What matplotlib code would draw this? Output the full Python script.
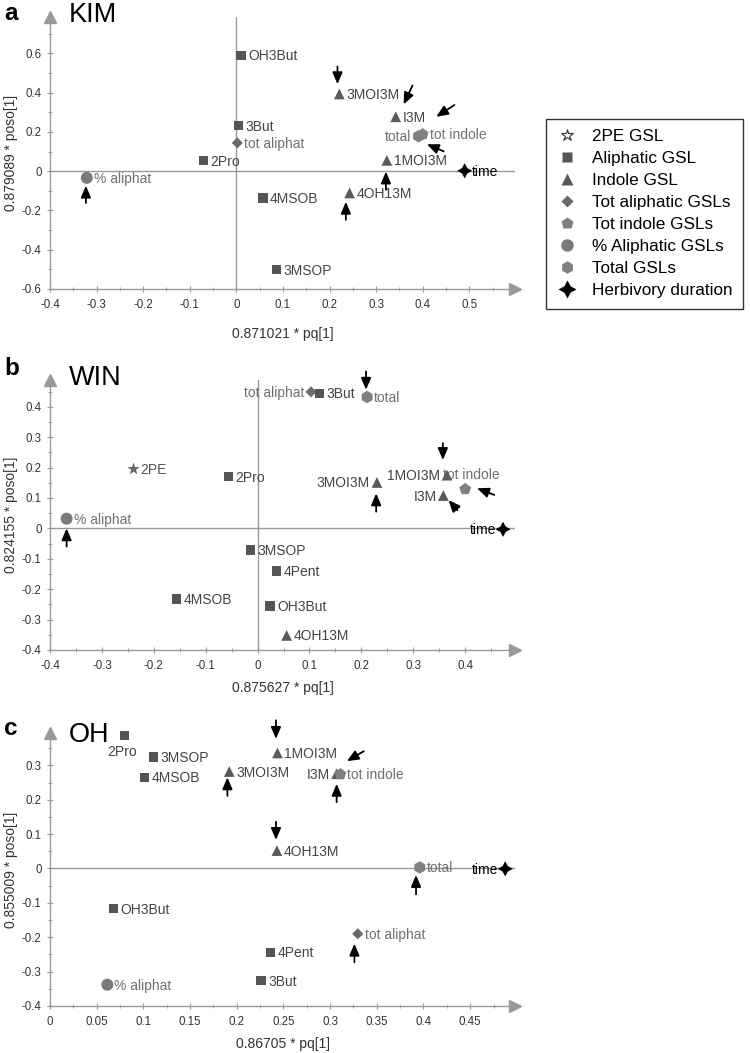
import matplotlib
matplotlib.use("Agg")
import matplotlib.pyplot as plt
from matplotlib.lines import Line2D
from matplotlib.ticker import MultipleLocator

plt.rcParams["font.family"] = ["Liberation Sans", "DejaVu Sans"]

# ---- panel a: KIM ----
a_names = ["OH3But", "3MOI3M", "I3M", "tot indole", "total", "3But", "tot aliphat",
           "2Pro", "1MOI3M", "time", "% aliphat", "4MSOB", "4OH13M", "3MSOP"]
a_kind = ["ali", "ind", "ind", "totind", "total", "ali", "totali",
          "ali", "ind", "time", "pct", "ali", "ind", "ali"]
a_x = [0.010, 0.221, 0.342, 0.400, 0.391, 0.005, 0.002, -0.071, 0.323, 0.490, -0.321, 0.057, 0.243, 0.086]
a_y = [0.590, 0.393, 0.277, 0.188, 0.178, 0.232, 0.144, 0.053, 0.055, 0.002, -0.034, -0.137, -0.111, -0.501]
# arrows: tail -> head
a_arrows = [((0.217, 0.533), (0.217, 0.443)),
            ((0.378, 0.436), (0.359, 0.340)),
            ((0.468, 0.337), (0.429, 0.277)),
            ((0.445, 0.101), (0.409, 0.137)),
            ((0.321, -0.094), (0.321, -0.002)),
            ((-0.323, -0.162), (-0.323, -0.074)),
            ((0.235, -0.248), (0.235, -0.156))]

# ---- panel b: WIN ----
b_names = ["tot aliphat", "3But", "total", "2PE", "2Pro", "3MOI3M", "1MOI3M", "tot indole",
           "I3M", "% aliphat", "time", "3MSOP", "4Pent", "4MSOB", "OH3But", "4OH13M"]
b_kind = ["totali", "ali", "total", "pe", "ali", "ind", "ind", "totind",
          "ind", "pct", "time", "ali", "ali", "ali", "ali", "ind"]
b_x = [0.103, 0.119, 0.211, -0.239, -0.056, 0.230, 0.365, 0.400, 0.358, -0.368, 0.473,
       -0.014, 0.037, -0.156, 0.024, 0.056]
b_y = [0.449, 0.444, 0.432, 0.195, 0.170, 0.151, 0.175, 0.129, 0.108, 0.032, -0.003,
       -0.071, -0.140, -0.232, -0.255, -0.352]
b_arrows = [((0.209, 0.516), (0.209, 0.456)),
            ((0.357, 0.280), (0.357, 0.225)),
            ((0.2285, 0.055), (0.2285, 0.115)),
            ((0.456, 0.110), (0.423, 0.132)),
            ((0.385, 0.060), (0.368, 0.093)),
            ((-0.368, -0.060), (-0.368, 0.000))]

# ---- panel c: OH ----
c_names = ["2Pro", "3MSOP", "4MSOB", "1MOI3M", "3MOI3M", "I3M", "tot indole", "4OH13M",
           "total", "time", "OH3But", "tot aliphat", "4Pent", "3But", "% aliphat"]
c_kind = ["ali", "ali", "ali", "ind", "ind", "ind", "totind", "ind",
          "total", "time", "ali", "totali", "ali", "ali", "pct"]
c_x = [0.0796, 0.111, 0.101, 0.2436, 0.192, 0.307, 0.311, 0.243, 0.396, 0.4875, 0.068, 0.3296,
       0.2364, 0.226, 0.0614]
c_y = [0.387, 0.324, 0.265, 0.336, 0.282, 0.2756, 0.274, 0.052, 0.003, -0.001, -0.117, -0.190,
       -0.244, -0.326, -0.338]
c_arrows = [((0.242, 0.431), (0.242, 0.377)),
            ((0.336, 0.341), (0.318, 0.312)),
            ((0.190, 0.211), (0.190, 0.265)),
            ((0.307, 0.193), (0.307, 0.246)),
            ((0.242, 0.136), (0.242, 0.083)),
            ((0.392, -0.075), (0.392, -0.019)),
            ((0.326, -0.273), (0.326, -0.219))]

legend_labels = ["2PE GSL", "Aliphatic GSL", "Indole GSL", "Tot aliphatic GSLs",
                 "Tot indole GSLs", "% Aliphatic GSLs", "Total GSLs", "Herbivory duration"]

# marker style per kind
STYLE = {
    "pe":     dict(marker="*", s=90, c="#6a6a6a"),
    "ali":    dict(marker="s", s=45, c="#555555"),
    "ind":    dict(marker="^", s=60, c="#5a5a5a"),
    "totali": dict(marker="D", s=32, c="#6a6a6a"),
    "totind": dict(marker="p", s=80, c="#808080"),
    "pct":    dict(marker="o", s=75, c="#7a7a7a"),
    "total":  dict(marker="h", s=80, c="#808080"),
    "time":   dict(marker=(4, 1, 0), s=120, c="black"),
}
TXT = {"pe": "#555555", "ali": "#444444", "ind": "#444444", "totali": "#707070",
       "totind": "#707070", "pct": "#707070", "total": "#707070", "time": "black"}

# label placement (offset in pixels, ha)
R, L = ((7, -1), "left"), ((-7, -1), "right")
a_place = {"total": L}
b_place = {"tot aliphat": L, "3MOI3M": L, "1MOI3M": L, "I3M": L, "time": L,
           "tot indole": ((-22, 14), "left")}
c_place = {"I3M": L, "time": L, "2Pro": ((-2, -17), "center")}

fig = plt.figure(figsize=(7.5, 10.53), dpi=100)
W, H = 750, 1053


def panel(rect, names, kinds, xs, ys, arrows, place, xlim, ylim, xmaj, xmin, ymaj, ymin,
          xlabel, ylabel, letter, title, heads, xpad, vline=True):
    l, t, r, b = rect
    ax = fig.add_axes([l / W, 1 - b / H, (r - l) / W, (b - t) / H])
    ax.set_xlim(*xlim)
    ax.set_ylim(*ylim)
    for s in ["top", "right"]:
        ax.spines[s].set_visible(False)
    for s in ["left", "bottom"]:
        ax.spines[s].set_color("#999999")
        ax.spines[s].set_linewidth(1)
    ax.plot(1, 0, ">", transform=ax.transAxes, clip_on=False, color="#999999", ms=8)
    ax.plot(0, 1, "^", transform=ax.transAxes, clip_on=False, color="#999999", ms=8)
    ax.axhline(0, color="#999999", lw=1, zorder=0)
    if vline:
        ax.axvline(0, color="#999999", lw=1, zorder=0)
    ax.xaxis.set_major_locator(MultipleLocator(xmaj))
    ax.xaxis.set_minor_locator(MultipleLocator(xmin))
    ax.yaxis.set_major_locator(MultipleLocator(ymaj))
    ax.yaxis.set_minor_locator(MultipleLocator(ymin))
    ax.tick_params(which="both", direction="inout", color="#999999", labelsize=8.3,
                   labelcolor="#333333")
    ax.tick_params(which="major", length=5)
    ax.tick_params(which="minor", length=3)
    ax.tick_params(axis="x", pad=5)
    ax.set_xticklabels([("%g" % v) for v in ax.get_xticks()])
    ax.set_yticklabels([("%g" % v) for v in ax.get_yticks()])
    ax.set_xlim(*xlim)
    ax.set_ylim(*ylim)
    ax.set_xlabel(xlabel, fontsize=10, color="#333333", labelpad=xpad)
    ax.set_ylabel(ylabel, fontsize=10, color="#333333")
    ax.yaxis.set_label_coords((18 - l) / (r - l), 0.5)

    for n, k, x, y in zip(names, kinds, xs, ys):
        st = STYLE[k]
        ax.scatter([x], [y], marker=st["marker"], s=st["s"], c=st["c"], edgecolors="none",
                   zorder=3, clip_on=False)
        off, ha = place.get(n, R)
        ax.annotate(n, (x, y), xytext=off, textcoords="offset pixels", ha=ha, va="center",
                    fontsize=10, color=TXT[k], zorder=2, annotation_clip=False)

    for (tx, ty), (hx, hy) in arrows:
        ax.annotate("", xy=(hx, hy), xytext=(tx, ty), annotation_clip=False,
                    arrowprops=dict(arrowstyle="-|>,head_length=0.7,head_width=0.3",
                                    color="black", lw=1.3, shrinkA=0, shrinkB=0))

    lb, tb = heads
    fig.text(4 / W, 1 - lb / H, letter, fontsize=17.5, fontweight="bold", va="baseline")
    fig.text(69 / W, 1 - tb / H, title, fontsize=19.5, va="baseline")
    return ax


panel((50, 17, 515, 289), a_names, a_kind, a_x, a_y, a_arrows, a_place,
      (-0.4, 0.598), (-0.6, 0.785), 0.1, 0.05, 0.2, 0.1,
      "0.871021 * pq[1]", "0.879089 * poso[1]", "a", "KIM", (20, 22), 11)
panel((50, 380, 515, 650), b_names, b_kind, b_x, b_y, b_arrows, b_place,
      (-0.4, 0.496), (-0.4, 0.488), 0.1, 0.05, 0.1, 0.05,
      "0.875627 * pq[1]", "0.824155 * poso[1]", "b", "WIN", (375, 385), 6.5)
panel((50, 733, 515, 1006), c_names, c_kind, c_x, c_y, c_arrows, c_place,
      (0.0, 0.498), (-0.4, 0.394), 0.05, 0.025, 0.1, 0.05,
      "0.86705 * pq[1]", "0.855009 * poso[1]", "c", "OH", (735, 742), 6.5, vline=False)

# legend
kinds_order = ["pe", "ali", "ind", "totali", "totind", "pct", "total", "time"]
sizes = {"pe": 9, "ali": 7, "ind": 8, "totali": 6, "totind": 9, "pct": 9, "total": 9, "time": 13}
handles = []
for k in kinds_order:
    st = STYLE[k]
    if k == "pe":
        h = Line2D([], [], ls="none", marker="*", ms=sizes[k], mfc="white", mec="#333333", mew=0.8)
    else:
        h = Line2D([], [], ls="none", marker=st["marker"], ms=sizes[k], mfc=st["c"], mec="none")
    handles.append(h)
leg = fig.legend(handles, legend_labels, loc="upper left",
                 bbox_to_anchor=(546 / W, 1 - 119 / H), fontsize=12.3, frameon=True,
                 fancybox=False, edgecolor="black", labelspacing=0.41, handletextpad=0.8,
                 borderpad=0.6, handlelength=1.3, borderaxespad=0)
leg.get_frame().set_linewidth(1)

fig.savefig("out.png", dpi=100)
